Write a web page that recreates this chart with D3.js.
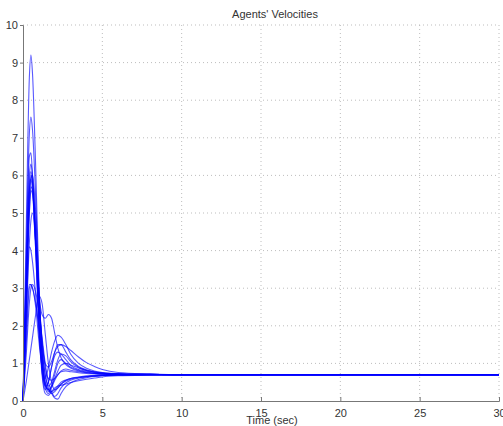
<!DOCTYPE html>
<html>
<head>
<meta charset="utf-8">
<script src="https://cdn.jsdelivr.net/npm/d3@7"></script>
<style>
  body { margin: 0; background: #fff; }
  svg { display: block; font-family: "Liberation Sans", Arial, sans-serif; }
</style>
</head>
<body>
<script>
// time samples (sec)
var times = [0, 0.2, 0.4, 0.5, 0.6, 0.8, 1.0, 1.2, 1.4, 1.6, 1.8, 2.0, 2.2, 2.4, 2.7, 3.0, 3.5, 4.0, 4.5, 5.0, 6.0, 8.0, 10, 30];

// velocity of each agent at the time samples
var agent1  = [0, 4.5, 8.6, 9.2, 8.7, 6.2, 3.2, 1.2, 0.4, 0.5, 0.9, 1.2, 1.3, 1.25, 1.1, 0.95, 0.84, 0.79, 0.76, 0.74, 0.72, 0.71, 0.7, 0.7];
var agent2  = [0, 3.8, 7.1, 7.55, 7.2, 5.4, 3.0, 1.3, 0.5, 0.25, 0.4, 0.7, 1.0, 1.1, 1.0, 0.9, 0.82, 0.77, 0.74, 0.72, 0.71, 0.7, 0.7, 0.7];
var agent3  = [0, 3.5, 6.5, 6.6, 6.0, 4.2, 2.2, 0.8, 0.3, 0.5, 0.9, 1.3, 1.5, 1.5, 1.3, 1.1, 0.92, 0.83, 0.78, 0.75, 0.72, 0.71, 0.7, 0.7];
var agent4  = [0, 2.6, 5.3, 5.9, 6.0, 5.0, 3.0, 1.5, 0.7, 0.4, 0.5, 0.8, 1.1, 1.25, 1.2, 1.05, 0.9, 0.81, 0.77, 0.74, 0.72, 0.71, 0.7, 0.7];
var agent5  = [0, 3.0, 5.6, 5.9, 5.6, 4.2, 2.3, 1.0, 0.35, 0.2, 0.35, 0.55, 0.7, 0.78, 0.8, 0.78, 0.75, 0.73, 0.72, 0.71, 0.7, 0.7, 0.7, 0.7];
var agent6  = [0, 2.0, 4.2, 4.8, 5.0, 4.2, 2.8, 1.6, 0.9, 0.6, 0.55, 0.6, 0.7, 0.8, 0.85, 0.82, 0.78, 0.75, 0.73, 0.72, 0.71, 0.7, 0.7, 0.7];
var agent7  = [0, 2.2, 4.1, 4.0, 3.7, 2.8, 1.8, 1.0, 0.5, 0.3, 0.25, 0.3, 0.4, 0.5, 0.56, 0.6, 0.63, 0.65, 0.67, 0.68, 0.69, 0.7, 0.7, 0.7];
var agent8  = [0, 1.8, 3.1, 3.1, 3.0, 2.6, 2.0, 1.3, 0.7, 0.35, 0.2, 0.25, 0.35, 0.45, 0.53, 0.58, 0.62, 0.65, 0.67, 0.68, 0.69, 0.7, 0.7, 0.7];
var agent9  = [0, 1.2, 2.6, 3.0, 3.1, 2.9, 2.4, 1.7, 1.0, 0.5, 0.25, 0.12, 0.2, 0.35, 0.48, 0.55, 0.61, 0.64, 0.66, 0.68, 0.69, 0.7, 0.7, 0.7];
var agent10 = [0, 0.5, 1.1, 1.4, 1.7, 2.3, 2.8, 2.6, 1.8, 1.0, 0.5, 0.3, 0.35, 0.45, 0.55, 0.6, 0.64, 0.67, 0.68, 0.69, 0.7, 0.7, 0.7, 0.7];
var agent11 = [0, 2.5, 5.0, 5.7, 5.6, 4.3, 2.9, 2.3, 2.2, 2.3, 2.2, 1.8, 1.4, 1.15, 0.97, 0.88, 0.8, 0.76, 0.74, 0.72, 0.71, 0.7, 0.7, 0.7];
var agent12 = [0, 2.8, 5.5, 6.0, 5.8, 4.5, 2.6, 1.2, 0.6, 0.9, 1.3, 1.6, 1.75, 1.7, 1.5, 1.25, 1.0, 0.87, 0.8, 0.76, 0.73, 0.71, 0.7, 0.7];
var agent13 = [0, 3.0, 5.8, 6.1, 5.8, 4.0, 2.0, 0.8, 0.4, 0.3, 0.2, 0.08, 0.05, 0.2, 0.38, 0.48, 0.57, 0.62, 0.65, 0.67, 0.69, 0.7, 0.7, 0.7];
var agent14 = [0, 2.5, 5.0, 5.6, 5.5, 4.0, 2.0, 0.7, 0.2, 0.15, 0.25, 0.35, 0.4, 0.42, 0.45, 0.49, 0.54, 0.58, 0.61, 0.64, 0.67, 0.69, 0.7, 0.7];
var agent15 = [0, 3.2, 6.0, 6.3, 6.0, 4.6, 2.8, 1.6, 1.0, 0.9, 1.05, 1.3, 1.45, 1.5, 1.45, 1.35, 1.17, 1.02, 0.92, 0.84, 0.76, 0.72, 0.7, 0.7];
var agent16 = [0, 1.5, 3.0, 3.1, 3.0, 2.5, 1.6, 0.9, 0.45, 0.3, 0.4, 0.6, 0.8, 0.95, 1.0, 0.96, 0.88, 0.81, 0.77, 0.74, 0.72, 0.71, 0.7, 0.7];

var agents = [agent1, agent2, agent3, agent4, agent5, agent6, agent7, agent8,
              agent9, agent10, agent11, agent12, agent13, agent14, agent15, agent16];

var xTicks = [0, 5, 10, 15, 20, 25, 30];
var yTicks = [0, 1, 2, 3, 4, 5, 6, 7, 8, 9, 10];

var width = 503, height = 426;
var plotLeft = 23, plotRight = 499, plotTop = 25, plotBottom = 401;

var svg = d3.select("body").append("svg")
    .attr("width", width)
    .attr("height", height);

var x = d3.scaleLinear().domain([0, 30]).range([plotLeft, plotRight]);
var y = d3.scaleLinear().domain([0, 10]).range([plotBottom, plotTop]);

// dotted grid
svg.append("g").selectAll("line")
    .data(xTicks.slice(1))
    .enter().append("line")
    .attr("x1", d => x(d)).attr("x2", d => x(d))
    .attr("y1", plotTop).attr("y2", plotBottom)
    .attr("stroke", "#bdbdbd")
    .attr("stroke-dasharray", "1,3");

svg.append("g").selectAll("line")
    .data(yTicks.slice(1))
    .enter().append("line")
    .attr("x1", plotLeft).attr("x2", plotRight)
    .attr("y1", d => y(d)).attr("y2", d => y(d))
    .attr("stroke", "#bdbdbd")
    .attr("stroke-dasharray", "1,3");

// agent curves
var line = d3.line()
    .x((d, i) => x(times[i]))
    .y(d => y(d))
    .curve(d3.curveMonotoneX);

svg.append("g").selectAll("path")
    .data(agents)
    .enter().append("path")
    .attr("d", line)
    .attr("fill", "none")
    .attr("stroke", "#0000ff")
    .attr("stroke-width", 1.1)
    .attr("stroke-opacity", 0.65);

// axes
var xAxis = svg.append("g")
    .attr("transform", "translate(0," + plotBottom + ")")
    .call(d3.axisBottom(x).tickValues(xTicks).tickSize(-4).tickPadding(8));

var yAxis = svg.append("g")
    .attr("transform", "translate(" + plotLeft + ",0)")
    .call(d3.axisLeft(y).tickValues(yTicks).tickSize(3).tickPadding(2));

[xAxis, yAxis].forEach(function (g) {
    g.select(".domain").attr("stroke", "#777");
    g.selectAll(".tick line").attr("stroke", "#777");
    g.selectAll(".tick text")
        .attr("fill", "#333")
        .style("font-size", "11px")
        .style("font-family", "Liberation Sans, Arial, sans-serif");
});

// title and axis label
svg.append("text")
    .attr("x", 275).attr("y", 18)
    .attr("text-anchor", "middle")
    .attr("fill", "#333")
    .style("font-size", "11px")
    .text("Agents' Velocities");

svg.append("text")
    .attr("x", 272).attr("y", 424)
    .attr("text-anchor", "middle")
    .attr("fill", "#333")
    .style("font-size", "11px")
    .text("Time (sec)");
</script>
</body>
</html>
